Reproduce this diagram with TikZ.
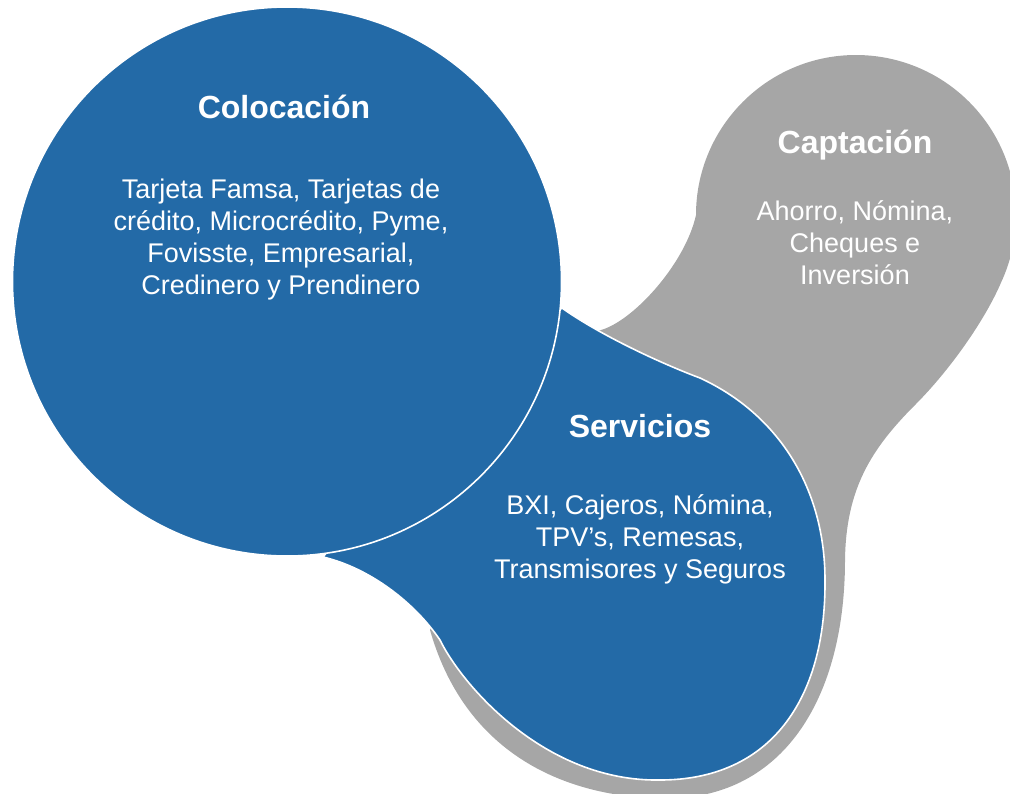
\documentclass[tikz,border=0pt]{standalone}
\usepackage{fontspec}
\setmainfont{Liberation Sans}
\definecolor{cblue}{HTML}{236AA7}
\definecolor{cgray}{HTML}{A6A6A6}
\begin{document}
\begin{tikzpicture}[x=1pt,y=-1pt,
  title/.style={text=white,font=\fontsize{32}{38}\selectfont\bfseries,anchor=base,inner sep=0pt},
  body/.style={text=white,align=center,font=\fontsize{27}{32}\selectfont,anchor=center},
  blob/.style={line width=1.6pt,draw=white}]
\useasboundingbox (0,0) rectangle (1010,793);
\clip (0,0) rectangle (1010,793);
% Captacion (gray)
\fill[cgray] (575,335) -- (597,331)
  .. controls (630,325) and (685,265) .. (696,215)
  arc[start angle=180, end angle=385, radius=160]
  .. controls (985,320) and (950,370) .. (915,405)
  .. controls (870,450) and (846,490) .. (845,560)
  .. controls (845,690) and (790,790) .. (680,798)
  .. controls (590,802) and (470,770) .. (430,630)
  -- (480,500) -- cycle;
% Servicios (blue)
\filldraw[cblue,blob] (323,557)
  .. controls (370,568) and (415,603) .. (440,640)
  .. controls (462,685) and (545,782) .. (660,780)
  .. controls (770,780) and (826,700) .. (825,580)
  .. controls (825,490) and (780,415) .. (700,378)
  .. controls (660,363) and (600,335) .. (562,308)
  -- (450,400) -- cycle;
% Colocacion (blue circle)
\filldraw[cblue,blob] (287,281.5) circle[radius=274.5];
\node[title] (t1) at (284,118) {Colocación};
\node[body] (b1) at (281,240) {Tarjeta Famsa, Tarjetas de\\crédito, Microcrédito, Pyme,\\Fovisste, Empresarial,\\Credinero y Prendinero};
\node[title] (t2) at (855,153) {Captación};
\node[body] (b2) at (855,243) {Ahorro, Nómina,\\Cheques e\\Inversión};
\node[title] (t3) at (640,437) {Servicios};
\node[body] (b3) at (640,539) {BXI, Cajeros, Nómina,\\TPV’s, Remesas,\\Transmisores y Seguros};
\end{tikzpicture}
\end{document}
